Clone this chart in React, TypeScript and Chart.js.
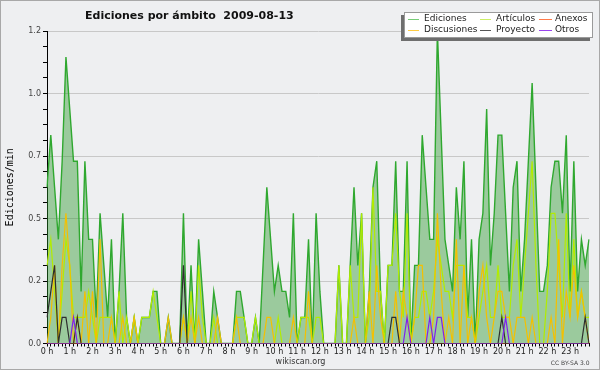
import React, { useEffect, useRef } from 'react';
import { Chart, registerables } from 'chart.js';

Chart.register(...registerables);

const TITLE = 'Ediciones por ámbito  2009-08-13';
const Y_TITLE = 'Ediciones/min';
const SITE = 'wikiscan.org';
const LICENSE = 'CC BY-SA 3.0';

const HOUR_LABELS = ['0 h','1 h','2 h','3 h','4 h','5 h','6 h','7 h','8 h','9 h','10 h','11 h','12 h','13 h','14 h','15 h','16 h','17 h','18 h','19 h','20 h','21 h','22 h','23 h'];
const SLOT_MINUTES = ['00','10','20','30','40','50'];
const SLOTS = HOUR_LABELS.flatMap((_, h) => SLOT_MINUTES.map((m) => `${h}:${m}`));

const Y_MAX = 1.2;
const Y_STEP = 0.06;

// edits per minute, 10-minute buckets (6 values per hour)
const ediciones = [
  0.6, 0.8, 0.6, 0.4, 0.7, 1.1,
  0.9, 0.7, 0.7, 0.2, 0.7, 0.4,
  0.4, 0.1, 0.5, 0.3, 0.1, 0.4,
  0, 0.2, 0.5, 0.1, 0, 0.1,
  0, 0.1, 0.1, 0.1, 0.2, 0.2,
  0, 0, 0.1, 0, 0, 0,
  0.5, 0, 0.3, 0, 0.4, 0.2,
  0, 0, 0.2, 0.1, 0, 0,
  0, 0, 0.2, 0.2, 0.1, 0,
  0, 0.1, 0, 0.3, 0.6, 0.4,
  0.2, 0.3, 0.2, 0.2, 0.1, 0.5,
  0, 0.1, 0.1, 0.4, 0, 0.5,
  0.2, 0, 0, 0, 0, 0.3,
  0, 0, 0.3, 0.6, 0.3, 0.5,
  0, 0.2, 0.6, 0.7, 0.2, 0,
  0.3, 0.3, 0.7, 0.2, 0.2, 0.7,
  0, 0.3, 0.3, 0.8, 0.6, 0.4,
  0.4, 1.2, 0.8, 0.4, 0.3, 0.2,
  0.6, 0.4, 0.7, 0.1, 0.4, 0,
  0.4, 0.5, 0.9, 0.3, 0.5, 0.8,
  0.8, 0.5, 0.2, 0.6, 0.7, 0.2,
  0.4, 0.7, 1.0, 0.6, 0.2, 0.2,
  0.3, 0.6, 0.7, 0.7, 0.5, 0.8,
  0.2, 0.7, 0.2, 0.4, 0.3, 0.4,
];

const articulos = [
  0.3, 0.4, 0.2, 0, 0.2, 0.4,
  0.3, 0.1, 0.1, 0.1, 0.1, 0.2,
  0.1, 0, 0.1, 0.1, 0.1, 0.1,
  0, 0.2, 0, 0.1, 0, 0.1,
  0, 0.1, 0.1, 0.1, 0.2, 0.1,
  0, 0, 0, 0, 0, 0,
  0.1, 0, 0.2, 0, 0.3, 0.1,
  0, 0, 0.1, 0, 0, 0,
  0, 0, 0.1, 0.1, 0.1, 0,
  0, 0.1, 0, 0, 0, 0,
  0, 0.1, 0, 0, 0, 0,
  0, 0.1, 0.1, 0.1, 0, 0.1,
  0.1, 0, 0, 0, 0, 0.3,
  0, 0, 0.3, 0.1, 0.1, 0.5,
  0, 0.1, 0.6, 0.2, 0.2, 0,
  0.3, 0.3, 0.5, 0.2, 0.1, 0.5,
  0, 0.1, 0.1, 0.2, 0.2, 0.1,
  0.2, 0.4, 0.3, 0.2, 0.2, 0.1,
  0.3, 0.3, 0.3, 0.1, 0.1, 0,
  0.1, 0.2, 0.3, 0.1, 0.1, 0.3,
  0.1, 0.1, 0.1, 0.3, 0.4, 0.1,
  0.3, 0.5, 0.7, 0.3, 0, 0,
  0.2, 0.5, 0.5, 0.3, 0.1, 0.5,
  0.1, 0.4, 0.1, 0.2, 0.1, 0.1,
];

const discusiones = [
  0, 0.1, 0.3, 0, 0.3, 0.5,
  0.3, 0, 0.1, 0, 0.2, 0,
  0.2, 0, 0.4, 0, 0, 0.1,
  0, 0, 0.1, 0, 0, 0.1,
  0, 0, 0, 0, 0, 0,
  0, 0, 0.1, 0, 0, 0,
  0.1, 0, 0.1, 0, 0.1, 0,
  0, 0, 0, 0.1, 0, 0,
  0, 0, 0.1, 0, 0, 0,
  0, 0, 0, 0, 0.1, 0.1,
  0, 0, 0, 0, 0, 0.1,
  0, 0, 0, 0.2, 0, 0,
  0, 0, 0, 0, 0, 0,
  0, 0, 0, 0.1, 0, 0,
  0, 0.2, 0, 0.3, 0.1, 0,
  0, 0, 0.2, 0, 0.2, 0.1,
  0, 0.1, 0.3, 0.3, 0, 0,
  0.1, 0.5, 0.2, 0, 0.1, 0,
  0.4, 0, 0.3, 0, 0.1, 0,
  0.2, 0.3, 0.1, 0, 0.1, 0.2,
  0.2, 0.1, 0.1, 0, 0.1, 0.1,
  0.1, 0, 0.1, 0, 0, 0,
  0, 0.1, 0, 0.4, 0, 0.2,
  0.1, 0.3, 0.1, 0.2, 0.1, 0,
];

const proyecto = [
  0.1, 0.2, 0.3, 0, 0.1, 0.1,
  0, 0, 0.1, 0, 0, 0,
  0, 0, 0, 0, 0, 0,
  0, 0, 0, 0, 0, 0,
  0, 0, 0, 0, 0, 0,
  0, 0, 0, 0, 0, 0,
  0.3, 0, 0, 0, 0, 0,
  0, 0, 0, 0, 0, 0,
  0, 0, 0, 0, 0, 0,
  0, 0, 0, 0, 0, 0,
  0, 0, 0, 0, 0, 0,
  0, 0, 0, 0, 0, 0,
  0, 0, 0, 0, 0, 0,
  0, 0, 0, 0, 0, 0,
  0, 0, 0, 0, 0, 0,
  0, 0.1, 0.1, 0, 0, 0,
  0, 0, 0, 0, 0, 0,
  0, 0, 0, 0, 0, 0,
  0, 0, 0, 0, 0, 0,
  0, 0, 0, 0, 0, 0,
  0.1, 0, 0, 0, 0, 0,
  0, 0, 0, 0, 0, 0,
  0, 0, 0, 0, 0, 0,
  0, 0, 0, 0, 0.1, 0,
];

const anexos = [
  0, 0, 0, 0, 0, 0,  0, 0, 0, 0, 0, 0,  0, 0, 0, 0, 0, 0,  0, 0, 0, 0, 0, 0,
  0, 0, 0, 0, 0, 0,  0, 0, 0, 0, 0, 0,  0, 0, 0, 0, 0, 0,  0, 0, 0, 0, 0, 0,
  0, 0, 0, 0, 0, 0,  0, 0, 0, 0, 0, 0,  0, 0, 0, 0, 0, 0,  0, 0, 0, 0, 0, 0,
  0, 0, 0, 0, 0, 0,  0, 0, 0, 0, 0, 0,  0, 0, 0, 0, 0, 0,  0, 0, 0, 0, 0, 0,
  0, 0, 0, 0, 0, 0,  0, 0, 0, 0, 0, 0,  0, 0, 0, 0, 0, 0,  0, 0, 0, 0, 0, 0,
  0, 0, 0, 0, 0, 0,  0, 0, 0, 0, 0, 0,  0, 0, 0, 0, 0, 0,  0, 0, 0, 0, 0, 0,
];

const otros = [
  0, 0, 0, 0, 0, 0,
  0, 0.1, 0, 0, 0, 0,
  0, 0, 0, 0, 0, 0,
  0, 0, 0, 0, 0, 0,
  0, 0, 0, 0, 0, 0,
  0, 0, 0, 0, 0, 0,
  0, 0, 0, 0, 0, 0,
  0, 0, 0, 0, 0, 0,
  0, 0, 0, 0, 0, 0,
  0, 0, 0, 0, 0, 0,
  0, 0, 0, 0, 0, 0,
  0, 0, 0, 0, 0, 0,
  0, 0, 0, 0, 0, 0,
  0, 0, 0, 0, 0, 0,
  0, 0, 0, 0, 0, 0,
  0, 0, 0, 0, 0, 0.1,
  0, 0, 0, 0, 0, 0.1,
  0, 0.1, 0.1, 0, 0, 0,
  0, 0, 0, 0, 0, 0,
  0, 0, 0, 0, 0, 0,
  0, 0.1, 0, 0, 0, 0,
  0, 0, 0, 0, 0, 0,
  0, 0, 0, 0, 0, 0,
  0, 0, 0, 0, 0, 0,
];

const COLORS = {
  Ediciones: '#2fa82f',
  Artículos: '#b2ec00',
  Anexos: '#ff6a3a',
  Discusiones: '#f4c000',
  Proyecto: '#2e2e2e',
  Otros: '#8020ee',
};
const LEGEND_COLORS = {
  Ediciones: '#77cc77',
  Artículos: '#ccee66',
  Anexos: '#ff7a4a',
  Discusiones: '#ffcc44',
  Proyecto: '#555555',
  Otros: '#9944ee',
};
// legend grid: 3 columns x 2 rows
const LEGEND_ORDER = ['Ediciones', 'Artículos', 'Anexos', 'Discusiones', 'Proyecto', 'Otros'];

const decorPlugin = {
  id: 'decor',
  beforeDraw(chart: any) {
    const { ctx, width, height } = chart;
    ctx.save();
    ctx.fillStyle = '#eeeff1';
    ctx.fillRect(0, 0, width, height);
    ctx.restore();
  },
  afterDraw(chart: any) {
    const { ctx, width, height } = chart;
    ctx.save();
    // frame
    ctx.strokeStyle = '#a8a8a8';
    ctx.lineWidth = 1;
    ctx.strokeRect(0.5, 0.5, width - 1, height - 1);

    // title
    ctx.fillStyle = '#111';
    ctx.font = 'bold 11px "DejaVu Sans"';
    ctx.textAlign = 'left';
    ctx.textBaseline = 'alphabetic';
    ctx.fillText(TITLE, 85, 18.5);

    // legend box with shadow
    const bx = 404, by = 12, bw = 189, bh = 26;
    ctx.fillStyle = '#6e6e6e';
    ctx.fillRect(bx - 3, by + 3, bw, bh);
    ctx.fillStyle = '#ffffff';
    ctx.fillRect(bx, by, bw, bh);
    ctx.strokeStyle = '#9a9a9a';
    ctx.strokeRect(bx + 0.5, by + 0.5, bw - 1, bh - 1);

    const colLine = [408, 480, 539];
    const colLineEnd = [419, 491, 552];
    const colText = [424, 496, 555];
    const rowY = [18.5, 29.5];
    ctx.font = '9px "DejaVu Sans"';
    ctx.textBaseline = 'middle';
    LEGEND_ORDER.forEach((label, k) => {
      const c = k % 3;
      const r = Math.floor(k / 3);
      const ds = chart.data.datasets.find((d: any) => d.label === label);
      if (!ds) return;
      ctx.strokeStyle = (LEGEND_COLORS as any)[label];
      ctx.lineWidth = 1;
      ctx.beginPath();
      ctx.moveTo(colLine[c], Math.round(rowY[r]) + 0.5);
      ctx.lineTo(colLineEnd[c], Math.round(rowY[r]) + 0.5);
      ctx.stroke();
      ctx.fillStyle = '#222';
      ctx.fillText(ds.label, colText[c], rowY[r] + 0.5);
    });

    // footer
    ctx.textBaseline = 'alphabetic';
    ctx.fillStyle = '#333';
    ctx.font = '8px "DejaVu Sans"';
    ctx.textAlign = 'center';
    ctx.fillText(SITE, 300.5, 363.5);
    ctx.font = '6px "DejaVu Sans"';
    ctx.textAlign = 'right';
    ctx.fillStyle = '#444';
    ctx.fillText(LICENSE, 589.5, 365);
    ctx.restore();
  },
};

export default function App() {
  const ref = useRef<HTMLCanvasElement | null>(null);

  useEffect(() => {
    if (!ref.current) return;
    const mk = (label: string, data: number[], order: number, width: number, extra: any = {}) => ({
      label,
      data,
      order,
      borderColor: (COLORS as any)[label],
      borderWidth: width,
      pointRadius: 0,
      tension: 0,
      fill: false,
      ...extra,
    });
    const chart = new Chart(ref.current, {
      type: 'line',
      data: {
        labels: SLOTS,
        datasets: [
          mk('Ediciones', ediciones, 10, 1.4, { fill: 'origin', backgroundColor: 'rgba(40,150,40,0.42)' }),
          mk('Artículos', articulos, 5, 1.2),
          mk('Anexos', anexos, 4, 1.2),
          mk('Discusiones', discusiones, 3, 1.2),
          mk('Proyecto', proyecto, 2, 1.2),
          mk('Otros', otros, 1, 1.2),
        ],
      },
      options: {
        animation: false,
        responsive: false,
        devicePixelRatio: 1,
        layout: { padding: { top: 31, right: 11, left: 0, bottom: 0 } },
        plugins: {
          legend: { display: false },
          title: { display: false },
          tooltip: { enabled: false },
        },
        scales: {
          x: {
            type: 'category',
            offset: false,
            z: 1,
            grid: { drawOnChartArea: false, tickLength: 3, color: '#000', tickColor: '#000' },
            border: { color: '#000', width: 1 },
            ticks: {
              autoSkip: false,
              maxRotation: 0,
              minRotation: 0,
              padding: 1,
              color: '#222',
              font: { family: 'DejaVu Sans', size: 8 },
              callback: (_v: any, i: number) => (i % 6 === 0 ? HOUR_LABELS[i / 6] : ''),
            },
            afterFit: (s: any) => { s.height = 26.5; },
          },
          y: {
            min: 0,
            max: Y_MAX,
            z: 0,
            grid: {
              color: (c: any) => (c.index % 4 === 0 ? '#c8c8c8' : 'rgba(0,0,0,0)'),
              tickColor: '#000',
              tickLength: 4,
            },
            border: { color: '#000', width: 1 },
            ticks: {
              stepSize: Y_STEP,
              autoSkip: false,
              padding: 2,
              color: '#444',
              font: { family: 'DejaVu Sans', size: 8 },
              callback: (v: any, i: number) => (i % 4 === 0 ? Number(v).toFixed(1) : ''),
            },
            title: {
              display: true,
              text: Y_TITLE,
              color: '#000',
              font: { family: 'DejaVu Sans Mono', size: 10 },
              padding: { top: 4, bottom: 0 },
            },
            afterFit: (s: any) => { s.width = 47; },
          },
        },
      } as any,
      plugins: [decorPlugin],
    });
    return () => chart.destroy();
  }, []);

  return (
    <div style={{ position: 'fixed', left: 0, top: 0, width: 600, height: 370 }}>
      <canvas ref={ref} width={600} height={370} style={{ display: 'block', width: 600, height: 370 }} />
    </div>
  );
}
